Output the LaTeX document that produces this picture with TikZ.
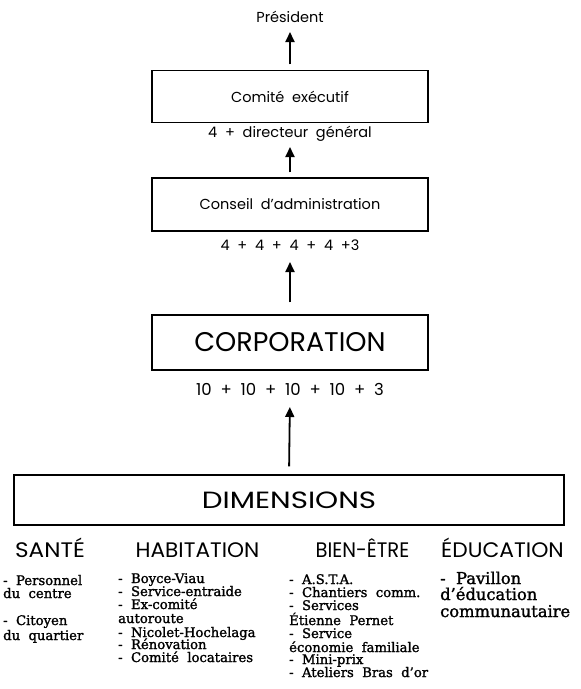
\documentclass[tikz,border=0pt]{standalone}
\usepackage{fontspec}
\setmainfont{DejaVu Serif}[FakeBold=1.5]
\newfontfamily\geo{Poppins}
\usetikzlibrary{arrows.meta}
\begin{document}
\begin{tikzpicture}[x=1pt,y=-1pt,
  box/.style={draw, line width=1.4pt, inner sep=0pt, font=\geo},
  lbl/.style={font=\geo\fontsize{14.5}{16}\selectfont, inner sep=0pt, anchor=base},
  arr/.style={line width=1.8pt, -{Triangle[length=10pt,width=9pt]}},
  head/.style={font=\geo\fontsize{21}{24}\selectfont, inner sep=0pt, anchor=base},
  item/.style={font=\fontsize{13.2}{14}\selectfont, inner sep=0pt, anchor=base west},
  itemb/.style={font=\fontsize{16.3}{17}\selectfont, inner sep=0pt, anchor=base west}
]
\useasboundingbox (0,0) rectangle (581,689);

% boxes
\node[box, minimum width=276pt, minimum height=52pt,
      font=\geo\fontsize{14.5}{16}\selectfont] (comite) at (290,96.5) {\raisebox{-5pt}{Comité\ \ exécutif}};
\node[box, minimum width=276pt, minimum height=53pt,
      font=\geo\fontsize{14.5}{16}\selectfont] (conseil) at (290,204.5) {\raisebox{-4.5pt}{Conseil\ \ d’administration}};
\node[box, minimum width=276pt, minimum height=55pt,
      font=\geo\fontsize{27}{30}\selectfont] (corp) at (290,342.5) {CORPORATION};
\node[box, minimum width=550pt, minimum height=50pt,
      font=\geo\fontsize{23.5}{26}\selectfont] (dims) at (289,500) {\scalebox{1.25}[1]{DIMENSIONS}};

% labels
\node[lbl] (pres) at (290,22) {Président};
\node[lbl] (dg) at (290,137) {4\ \ +\ \ directeur\ \ général};
\node[lbl] (c4) at (290,250) {4\ \ +\ \ 4\ \ +\ \ 4\ \ +\ \ 4\ \ +3};
\node[lbl, font=\geo\fontsize{16.5}{20}\selectfont] (c10) at (290,395.5) {10\ \ +\ \ 10\ \ +\ \ 10\ \ +\ \ 10\ \ +\ \ 3};

% arrows
\draw[arr, shorten <=5.5pt, shorten >=10pt] (comite.north) -- (pres.base);
\draw[arr, shorten <=5pt, shorten >=10pt] (conseil.north) -- (dg.base);
\draw[arr, shorten <=12pt, shorten >=12pt] (corp.north) -- (c4.base);
\draw[arr, shorten <=8pt, shorten >=11.5pt] (dims.north) -- (c10.base);

% column heads
\node[head] (sante) at (50,557) {\scalebox{1.1}[1]{SANTÉ}};
\node[head] (habit) at (197.5,557) {\scalebox{1.03}[1]{HABITATION}};
\node[head] (bien) at (362.5,557) {\scalebox{0.93}[1]{BIEN-ÊTRE}};
\node[head] (educ) at (502.5,557) {\scalebox{1.04}[1]{ÉDUCATION}};

% SANTE items
\node[item] (s1) at (3,585) {-\ \ Personnel};
\node[item] (s2) at (3,598) {du\ \ centre};
\node[item] (s3) at (3,625) {-\ \ Citoyen};
\node[item] (s4) at (3,640) {du\ \ quartier};

% HABITATION items
\node[item] (h1) at (118,583) {-\ \ Boyce-Viau};
\node[item] (h2) at (118,596) {-\ \ Service-entraide};
\node[item] (h3) at (118,609) {-\ \ Ex-comité};
\node[item] (h4) at (118,623) {autoroute};
\node[item] (h5) at (118,637) {-\ \ Nicolet-Hochelaga};
\node[item] (h6) at (118,649) {-\ \ Rénovation};
\node[item] (h7) at (118,662) {-\ \ Comité\ \ locataires};

% BIEN-ETRE items
\node[item] (b1) at (289,584) {-\ \ A.S.T.A.};
\node[item] (b2) at (289,597) {-\ \ Chantiers\ \ comm.};
\node[item] (b3) at (289,610) {-\ \ Services};
\node[item] (b4) at (289,625) {Étienne\ \ Pernet};
\node[item] (b5) at (289,638) {-\ \ Service};
\node[item] (b6) at (289,652) {économie\ \ familiale};
\node[item] (b7) at (289,664) {-\ \ Mini-prix};
\node[item] (b8) at (289,677) {-\ \ Ateliers\ \ Bras\ \ d'or};

% EDUCATION items
\node[itemb] (e1) at (440,584) {-\ \ Pavillon};
\node[itemb] (e2) at (440,600) {d'éducation};
\node[itemb] (e3) at (440,617) {communautaire};
\end{tikzpicture}
\end{document}
